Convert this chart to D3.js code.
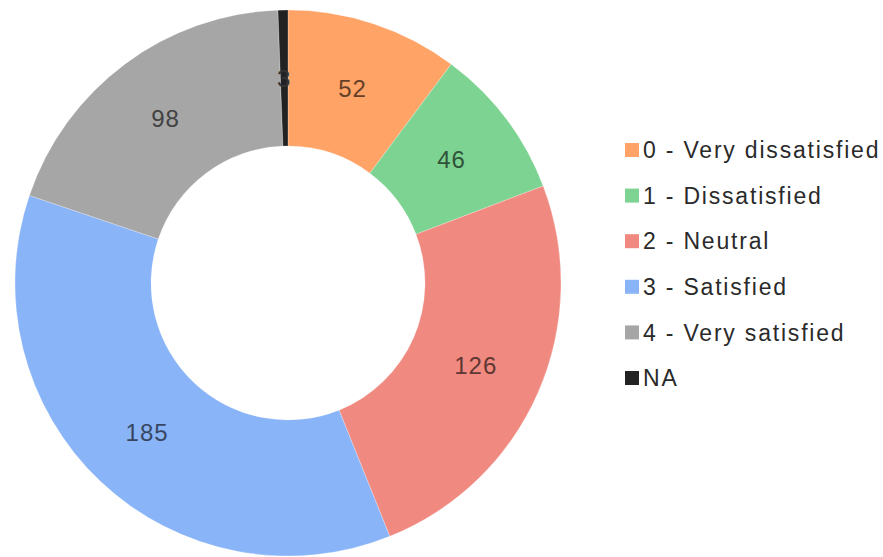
<!DOCTYPE html>
<html>
<head>
<meta charset="utf-8">
<script src="https://cdn.jsdelivr.net/npm/d3@7"></script>
<style>
  body { margin: 0; background: #fff; }
  text { font-family: "Liberation Sans", Arial, sans-serif; }
</style>
</head>
<body>
<div id="chart"></div>
<script>
var width = 883, height = 557;

var categories = ["0 - Very dissatisfied", "1 - Dissatisfied", "2 - Neutral", "3 - Satisfied", "4 - Very satisfied", "NA"];
var counts = [52, 46, 126, 185, 98, 3];
var colors = ["#ffa366", "#7dd391", "#f08a80", "#8ab4f8", "#a6a6a6", "#222222"];

var cx = 288, cy = 283,
    outerR = 273, innerR = 137;

var svg = d3.select("#chart").append("svg")
    .attr("width", width)
    .attr("height", height);

var color = d3.scaleOrdinal().domain(categories).range(colors);

var data = categories.map(function(c, i) { return { label: c, value: counts[i] }; });

var pie = d3.pie()
    .sort(null)
    .value(function(d) { return d.value; });

var arc = d3.arc()
    .innerRadius(innerR)
    .outerRadius(outerR);

var g = svg.append("g")
    .attr("transform", "translate(" + cx + "," + cy + ")");

var slices = g.selectAll(".slice")
    .data(pie(data))
    .enter().append("g")
    .attr("class", "slice");

slices.append("path")
    .attr("d", arc)
    .style("fill", function(d) { return color(d.data.label); })
    .style("stroke", "#fff")
    .style("stroke-opacity", 0.4)
    .style("stroke-width", 0.6);

// value labels at middle of the ring
slices.append("text")
    .attr("transform", function(d) { return "translate(" + arc.centroid(d) + ")"; })
    .attr("dy", "0.36em")
    .style("text-anchor", "middle")
    .style("font-size", "24px")
    .style("letter-spacing", "1px")
    .style("fill", function(d) {
        return d.data.label == "NA" ? "#333" : d3.color(color(d.data.label)).darker(2.6);
    })
    .text(function(d) { return d.data.value; });

// legend
var legend = svg.append("g")
    .attr("transform", "translate(625,150)");

var rowH = 45.6;

var item = legend.selectAll(".item")
    .data(categories)
    .enter().append("g")
    .attr("class", "item")
    .attr("transform", function(d, i) { return "translate(0," + (i * rowH) + ")"; });

item.append("rect")
    .attr("x", 0)
    .attr("y", -7)
    .attr("width", 14)
    .attr("height", 14)
    .style("fill", function(d) { return color(d); });

item.append("text")
    .attr("x", 18)
    .attr("dy", "0.36em")
    .style("font-size", "23px")
    .style("letter-spacing", "1.8px")
    .style("fill", "#2a2a2a")
    .text(function(d) { return d; });
</script>
</body>
</html>
